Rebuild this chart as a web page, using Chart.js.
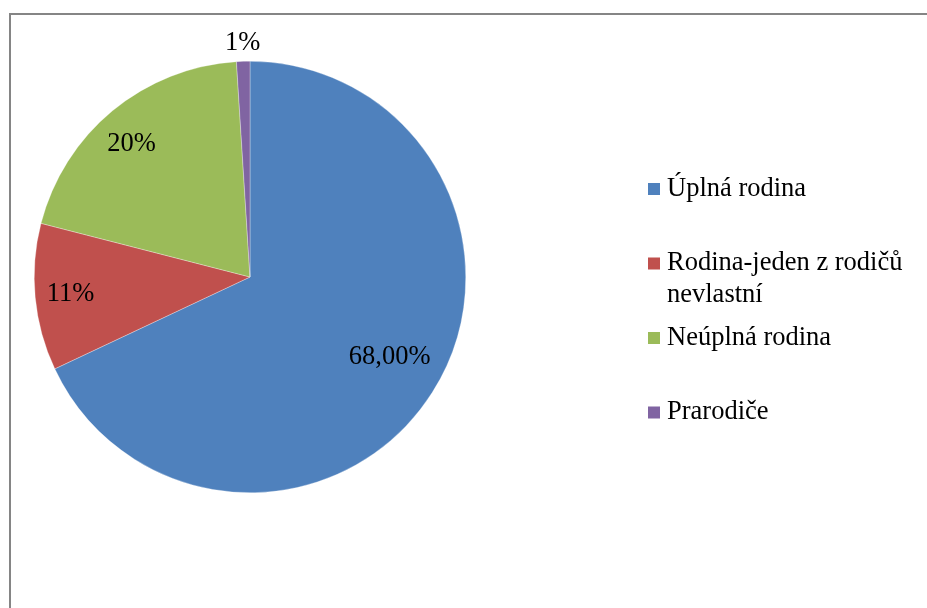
<!DOCTYPE html>
<html>
<head>
<meta charset="utf-8">
<script src="https://cdn.jsdelivr.net/npm/chart.js@4.4.0/dist/chart.umd.min.js"></script>
<style>
    html, body { margin: 0; padding: 0; background: #fff; overflow: hidden; }
    #wrap { position: relative; width: 927px; height: 608px; }
    #frame {
        position: absolute; left: 9px; top: 13px; width: 1000px; height: 700px;
        border-left: 2px solid #858585; border-top: 2px solid #858585;
    }
    canvas { position: absolute; left: 0; top: 0; }
</style>
</head>
<body>
<div id="wrap">
    <div id="frame"></div>
    <canvas id="pieChart" width="927" height="608"></canvas>
</div>
<script>
// Data
const categories = ['Úplná rodina', 'Rodina-jeden z rodičů nevlastní', 'Neúplná rodina', 'Prarodiče'];
const shares = [68, 11, 20, 1];
const shareLabels = ['68,00%', '11%', '20%', '1%'];
const sliceColors = ['#4F81BD', '#C0504D', '#9BBB59', '#8064A2'];

const FONT = '26.5px "Liberation Serif", "Times New Roman", serif';

// Data label placement: fraction of radius and small angle shift (degrees)
const labelRadius = [0.745, 0.835, 0.825, 1.085];
const labelShift = [-2.7, 0, -2.1, 0];

const sliceLabels = {
    id: 'sliceLabels',
    afterDatasetsDraw(chart) {
        const ctx = chart.ctx;
        const arcs = chart.getDatasetMeta(0).data;
        ctx.save();
        ctx.font = FONT;
        ctx.fillStyle = '#000';
        ctx.textAlign = 'center';
        ctx.textBaseline = 'middle';
        arcs.forEach((arc, i) => {
            const mid = (arc.startAngle + arc.endAngle) / 2 + labelShift[i] * Math.PI / 180;
            const r = arc.outerRadius * labelRadius[i];
            ctx.fillText(shareLabels[i], arc.x + Math.cos(mid) * r, arc.y + Math.sin(mid) * r);
        });
        ctx.restore();
    }
};

// Legend on the right, wrapped like the original
const sideLegend = {
    id: 'sideLegend',
    afterDraw(chart) {
        const ctx = chart.ctx;
        const x0 = 648, textX = 667, maxW = 250;
        let y = 189;
        const step = 74.5, lineH = 32;
        ctx.save();
        ctx.font = FONT;
        ctx.textBaseline = 'middle';
        categories.forEach((name, i) => {
            // wrap words
            const words = name.split(' ');
            const lines = [];
            let cur = '';
            words.forEach(w => {
                const test = cur ? cur + ' ' + w : w;
                if (ctx.measureText(test).width > maxW && cur) {
                    lines.push(cur);
                    cur = w;
                } else {
                    cur = test;
                }
            });
            lines.push(cur);
            ctx.fillStyle = sliceColors[i];
            ctx.fillRect(x0, y - 6, 12, 12);
            ctx.fillStyle = '#000';
            lines.forEach((ln, k) => ctx.fillText(ln, textX, y + k * lineH));
            y += step;
        });
        ctx.restore();
    }
};

new Chart(document.getElementById('pieChart'), {
    type: 'pie',
    data: {
        labels: categories,
        datasets: [{
            data: shares,
            backgroundColor: sliceColors,
            borderColor: 'rgba(255,255,255,0.6)',
            borderWidth: 0.5
        }]
    },
    options: {
        responsive: false,
        animation: false,
        layout: { padding: { left: 34, right: 461, top: 61, bottom: 115 } },
        plugins: {
            legend: { display: false },
            tooltip: { enabled: false }
        }
    },
    plugins: [sliceLabels, sideLegend]
});
</script>
</body>
</html>
